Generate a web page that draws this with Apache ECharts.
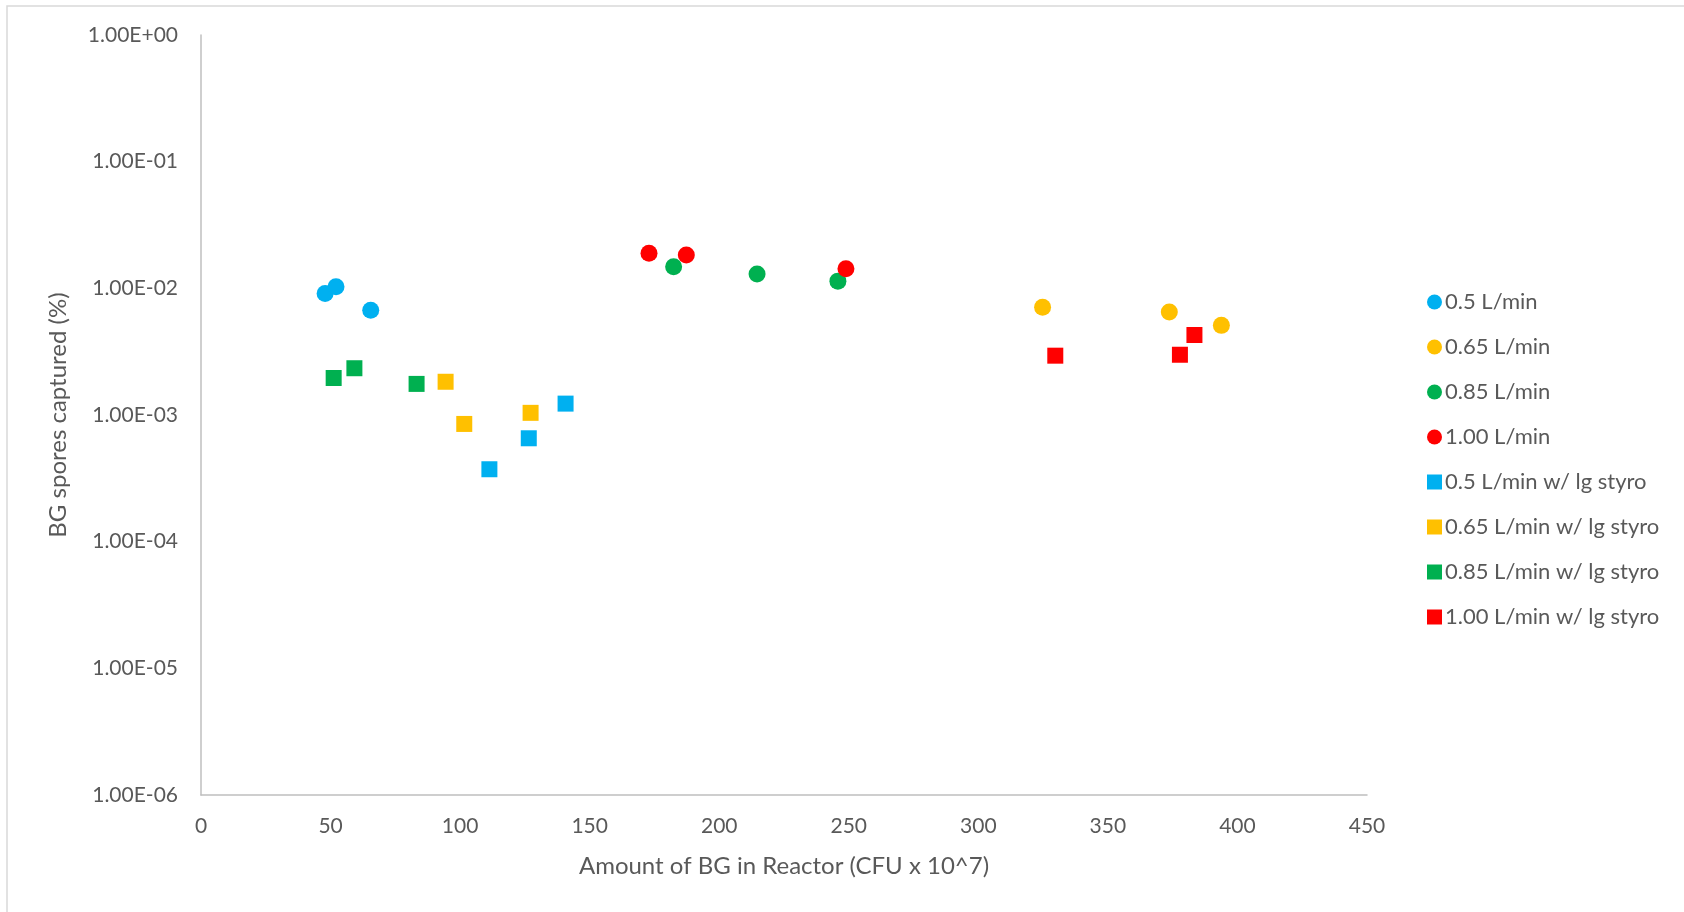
<!DOCTYPE html>
<html>
<head>
<meta charset="utf-8">
<script src="https://cdn.jsdelivr.net/npm/echarts@6/dist/echarts.min.js"></script>
<style>
html,body{margin:0;padding:0;background:#fff;}
#chart{width:1684px;height:912px;}
</style>
</head>
<body>
<div id="chart"></div>
<script>
// Series names
const seriesNames = [
  '0.5 L/min', '0.65 L/min', '0.85 L/min', '1.00 L/min',
  '0.5 L/min w/ lg styro', '0.65 L/min w/ lg styro', '0.85 L/min w/ lg styro', '1.00 L/min w/ lg styro'
];
// [Amount of BG (CFU x 10^7), BG spores captured (%)]
const s05 = [[47.9, 9.1e-3], [52.1, 1.03e-2], [65.5, 6.7e-3]];
const s065 = [[324.8, 7.1e-3], [373.7, 6.5e-3], [393.8, 5.1e-3]];
const s085 = [[182.4, 1.48e-2], [214.6, 1.30e-2], [245.8, 1.14e-2]];
const s100 = [[172.9, 1.89e-2], [187.3, 1.83e-2], [248.9, 1.43e-2]];
const s05s = [[111.3, 3.73e-4], [126.5, 6.55e-4], [140.7, 1.23e-3]];
const s065s = [[94.4, 1.83e-3], [101.6, 8.5e-4], [127.2, 1.04e-3]];
const s085s = [[51.2, 1.96e-3], [59.2, 2.34e-3], [83.2, 1.76e-3]];
const s100s = [[329.7, 2.94e-3], [377.8, 2.99e-3], [383.4, 4.28e-3]];
// Axis tick labels
const yTickValues = [1e-6, 1e-5, 1e-4, 1e-3, 1e-2, 1e-1, 1];
const yTickLabels = ['1.00E-06', '1.00E-05', '1.00E-04', '1.00E-03', '1.00E-02', '1.00E-01', '1.00E+00'];
const xTickLabels = ['0', '50', '100', '150', '200', '250', '300', '350', '400', '450'];

const seriesData = [s05, s065, s085, s100, s05s, s065s, s085s, s100s];
const colors = ['#00B0F0', '#FFC000', '#00B050', '#FF0000', '#00B0F0', '#FFC000', '#00B050', '#FF0000'];
const shapes = ['circle', 'circle', 'circle', 'circle', 'rect', 'rect', 'rect', 'rect'];

const FONT = 'Lato';
const TXT = '#595959';

function yLabel(v) {
  let best = 0, bd = Infinity;
  yTickValues.forEach((t, i) => {
    const d = Math.abs(Math.log10(v) - Math.log10(t));
    if (d < bd) { bd = d; best = i; }
  });
  return yTickLabels[best];
}

const chart = echarts.init(document.getElementById('chart'));
chart.setOption({
  animation: false,
  backgroundColor: '#fff',
  graphic: [{
    type: 'rect',
    shape: { x: 7, y: 6, width: 2000, height: 2000 },
    style: { fill: 'none', stroke: '#D9D9D9', lineWidth: 1.5 },
    silent: true
  }],
  grid: { left: 201, right: 317, top: 35, bottom: 117, containLabel: false },
  xAxis: {
    type: 'value', min: 0, max: 450, interval: 50,
    name: 'Amount of BG in Reactor (CFU x 10^7)',
    nameLocation: 'middle', nameGap: 59,
    nameTextStyle: { fontFamily: FONT, fontSize: 24, color: TXT },
    axisLine: { show: true, lineStyle: { color: '#BFBFBF', width: 1.5 } },
    axisTick: { show: false },
    splitLine: { show: false },
    axisLabel: {
      fontFamily: FONT, fontSize: 21, color: TXT, margin: 21,
      formatter: v => xTickLabels[Math.round(v / 50)]
    }
  },
  yAxis: {
    type: 'log', logBase: 10, min: 1e-6, max: 1,
    name: 'BG spores captured (%)',
    nameLocation: 'middle', nameGap: 131, nameRotate: 90,
    nameTextStyle: { fontFamily: FONT, fontSize: 24, color: TXT },
    axisLine: { show: true, onZero: false, lineStyle: { color: '#BFBFBF', width: 1.5 } },
    axisTick: { show: false },
    splitLine: { show: false },
    axisLabel: {
      fontFamily: FONT, fontSize: 21, color: TXT, margin: 23,
      formatter: v => yLabel(v)
    }
  },
  legend: {
    orient: 'vertical',
    left: 1422, top: 286,
    itemWidth: 15, itemHeight: 15, itemGap: 23,
    textStyle: { fontFamily: FONT, fontSize: 22, color: TXT, padding: [0, 0, 0, -2], lineHeight: 22, height: 22 },
    data: seriesNames.map((n, i) => ({ name: n, icon: shapes[i] === 'circle' ? 'circle' : 'rect' }))
  },
  series: seriesNames.map((n, i) => ({
    name: n,
    type: 'scatter',
    symbol: shapes[i],
    symbolSize: shapes[i] === 'circle' ? 17 : [16, 16],
    itemStyle: { color: colors[i], opacity: 1 },
    data: seriesData[i]
  }))
});
</script>
</body>
</html>
